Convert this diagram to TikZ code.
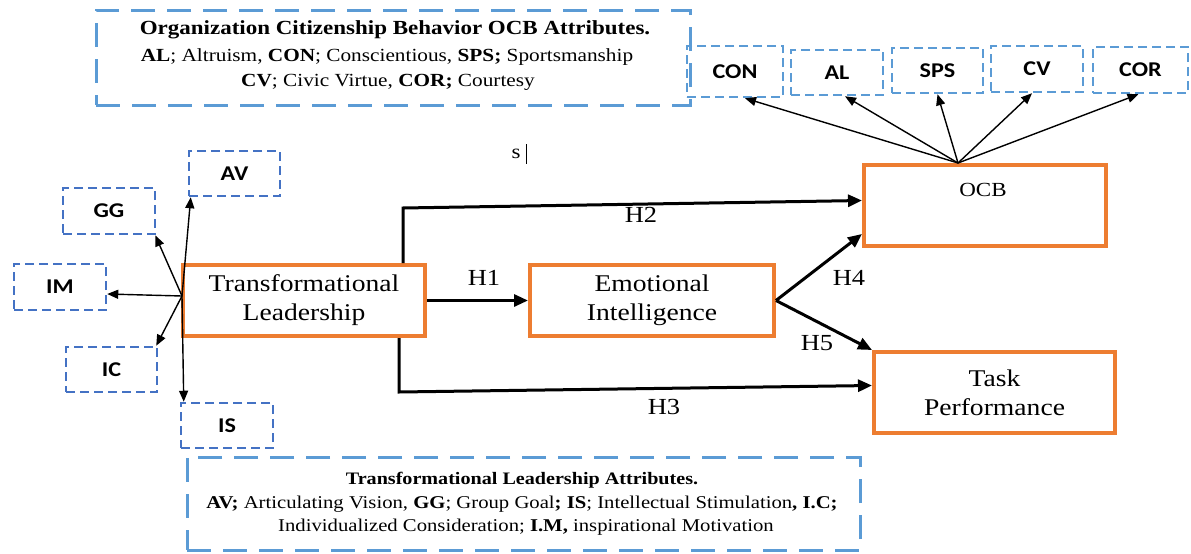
\documentclass[tikz,border=0pt]{standalone}
\usepackage{fontspec}
\setmainfont{Liberation Serif}[FakeStretch=1.15]
\newfontfamily\calib{Carlito}[FakeStretch=1.15]
\usetikzlibrary{arrows.meta}
\definecolor{orng}{HTML}{ED7D31}
\definecolor{lblue}{HTML}{5B9BD5}
\definecolor{dblue}{HTML}{4472C4}
\begin{document}
\begin{tikzpicture}[x=1pt,y=-1pt,
  mainbox/.style={draw=orng, line width=4pt, inner sep=0pt, align=center, font=\fontsize{24}{29}\selectfont},
  attrbox/.style={draw=lblue, line width=2.5pt, dash pattern=on 9pt off 5pt, inner sep=0pt, font=\calib\bfseries\fontsize{21}{24}\selectfont},
  tlattr/.style={attrbox, draw=dblue},
  infobox/.style={draw=lblue, line width=3pt, dash pattern=on 24pt off 12pt, inner sep=0pt},
  hyp/.style={line width=3pt, -{Triangle[length=14pt,width=12pt]}},
  thinarrow/.style={line width=1.4pt, -{Triangle[length=11pt,width=9pt]}},
  hlabel/.style={font=\fontsize{23}{23}\selectfont, inner sep=0pt},
  infotext/.style={inner sep=0pt, font=\fontsize{18}{20}\selectfont}
]
\useasboundingbox (0,0) rectangle (1191,554);

% info boxes
\node[infobox, minimum width=594pt, minimum height=95pt] (ocbinfo) at (393,57.5) {};
\node[infotext, font=\fontsize{20}{22}\selectfont\bfseries] (ocbT1) at (395,30) {Organization Citizenship Behavior OCB Attributes.};
\node[infotext, font=\fontsize{18.5}{20}\selectfont] (ocbT2) at (387,57) {\textbf{AL}; Altruism, \textbf{CON}; Conscientious, \textbf{SPS;} Sportsmanship};
\node[infotext, font=\fontsize{18.5}{20}\selectfont] (ocbT3) at (388,82) {\textbf{CV}; Civic Virtue, \textbf{COR;} Courtesy};

\node[infobox, minimum width=673pt, minimum height=93pt] (tlinfo) at (523.5,503.5) {};
\node[infotext, font=\fontsize{17.5}{20}\selectfont\bfseries] (tlT1) at (522,480) {Transformational Leadership Attributes.};
\node[infotext] (tlT2) at (522,504) {\textbf{AV;} Articulating Vision, \textbf{GG}; Group Goal\textbf{;} \textbf{IS}; Intellectual Stimulation\textbf{, I.C;}};
\node[infotext] (tlT3) at (526,527) {Individualized Consideration; \textbf{I.M,} inspirational Motivation};

% main boxes
\node[mainbox, minimum width=242pt, minimum height=71pt] (TL) at (304,300.5) {Transformational\\Leadership};
\node[mainbox, minimum width=244pt, minimum height=71pt] (EI) at (652,300.5) {Emotional\\Intelligence};
\node[mainbox, minimum width=242pt, minimum height=81pt] (OCB) at (985,205.5) {};
\node[inner sep=0pt, font=\fontsize{20}{22}\selectfont] (OCBt) at (983,190) {OCB};
\node[mainbox, minimum width=241pt, minimum height=81pt] (TP) at (994.5,392.5) {Task\\Performance};

% OCB attributes
\node[attrbox, minimum width=96pt, minimum height=51pt] (CON) at (735,71.5) {CON};
\node[attrbox, minimum width=92pt, minimum height=45pt] (AL) at (837,72.5) {AL};
\node[attrbox, minimum width=91pt, minimum height=45pt] (SPS) at (937.5,70.5) {SPS};
\node[attrbox, minimum width=92pt, minimum height=46pt] (CV) at (1037,69) {CV};
\node[attrbox, minimum width=95pt, minimum height=46pt] (COR) at (1140.5,70) {COR};

% TL attributes
\node[tlattr, minimum width=91pt, minimum height=45pt] (AV) at (234.5,173.5) {AV};
\node[tlattr, minimum width=92pt, minimum height=46pt] (GG) at (109,211) {GG};
\node[tlattr, minimum width=92pt, minimum height=46pt] (IM) at (60,287) {IM};
\node[tlattr, minimum width=91pt, minimum height=45pt] (IC) at (111.5,369.5) {IC};
\node[tlattr, minimum width=92pt, minimum height=45pt] (IS) at (227,425.5) {IS};

% arrows from TL to its attributes
\coordinate (tlsrc) at (182,296);
\draw[thinarrow] (tlsrc) -- ([xshift=3pt]AV.south west);
\draw[thinarrow] (tlsrc) -- ([xshift=-1pt]GG.south east);
\draw[thinarrow] (tlsrc) -- ([yshift=-7pt]IM.east);
\draw[thinarrow] (tlsrc) -- ([xshift=-2pt]IC.north east);
\draw[thinarrow] (tlsrc) -- ([xshift=4pt]IS.north west);

% arrows from OCB to its attributes
\coordinate (ocbsrc) at ([xshift=-27pt]OCB.north);
\draw[thinarrow] (ocbsrc) -- ([xshift=10pt]CON.south);
\draw[thinarrow] (ocbsrc) -- ([xshift=8pt]AL.south);
\draw[thinarrow] (ocbsrc) -- (SPS.south);
\draw[thinarrow] (ocbsrc) -- ([xshift=-5pt]CV.south);
\draw[thinarrow] (ocbsrc) -- ([xshift=-2pt]COR.south);

% hypotheses
\draw[hyp] (TL.east) -- (EI.west);
\draw[hyp] ([xshift=99pt]TL.north) -- ++(0,-55) -- ([yshift=5pt]OCB.west);
\draw[hyp] ([xshift=95pt]TL.south) -- ++(0,54) -- ([yshift=7pt]TP.west);
\draw[hyp] (EI.east) -- ([yshift=14pt]OCB.south west);
\draw[hyp] (EI.east) -- (TP.north west);

\node[hlabel] (H1) at (484,278) {H1};
\node[hlabel] (H2) at (641,215) {H2};
\node[hlabel] (H3) at (664,407) {H3};
\node[hlabel] (H4) at (849,278) {H4};
\node[hlabel] (H5) at (817,343) {H5};

% stray text
\node[inner sep=0pt, font=\fontsize{20}{22}\selectfont] (stray) at (516,154) {s};
\draw[line width=1pt] ([xshift=6pt,yshift=10pt]stray.east) -- ([xshift=6pt,yshift=-10pt]stray.east);
\end{tikzpicture}
\end{document}
